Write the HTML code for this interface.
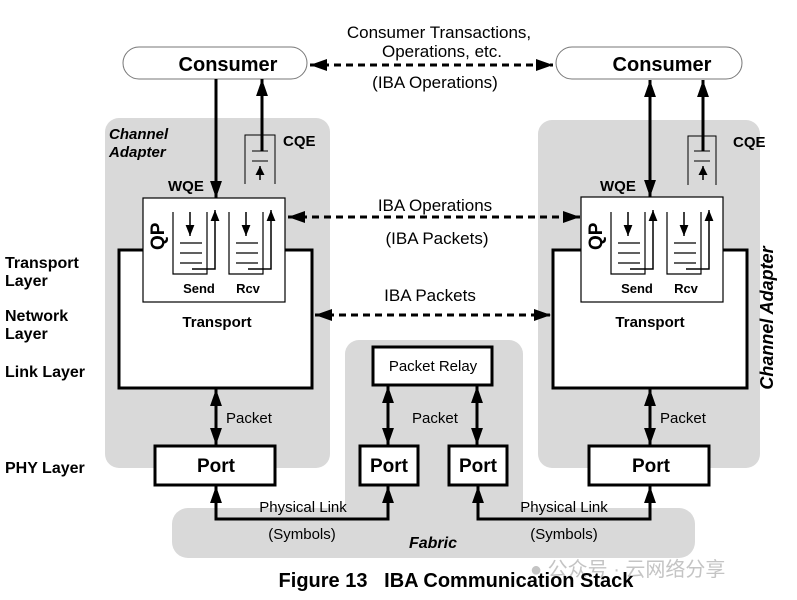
<!DOCTYPE html>
<html><head><meta charset="utf-8"><style>
html,body{margin:0;padding:0;background:#fff}
svg{display:block}
text{font-family:"Liberation Sans",Arial,sans-serif;fill:#000}
.b{font-weight:bold}
</style></head><body>
<svg width="797" height="600" viewBox="0 0 797 600" xmlns="http://www.w3.org/2000/svg">
<defs>
<marker id="ah" viewBox="0 0 10 10" refX="10" refY="5" markerWidth="9" markerHeight="9" markerUnits="userSpaceOnUse" orient="auto-start-reverse"><path d="M0,0L10,5L0,10z"/></marker>
<marker id="AH" viewBox="0 0 10 10" refX="10" refY="5" markerWidth="17" markerHeight="17" orient="auto-start-reverse" markerUnits="userSpaceOnUse"><path d="M0,1.5L10,5L0,8.5z"/></marker>
<marker id="sh" viewBox="0 0 10 10" refX="10" refY="5" markerWidth="11" markerHeight="11" orient="auto-start-reverse" markerUnits="userSpaceOnUse"><path d="M0,1L10,5L0,9z"/></marker>
</defs>
<rect x="105" y="118" width="225" height="350" rx="14" fill="#d9d9d9"/>
<rect x="538" y="120" width="222" height="348" rx="14" fill="#d9d9d9"/>
<rect x="345" y="340" width="178" height="190" rx="14" fill="#d9d9d9"/>
<rect x="172" y="508" width="523" height="50" rx="16" fill="#d9d9d9"/>

<rect x="123" y="47" width="184" height="32" rx="16" fill="#fff" stroke="#777" stroke-width="1"/>
<text x="228" y="71" font-size="20" class="b" text-anchor="middle">Consumer</text>
<rect x="556" y="47" width="186" height="32" rx="16" fill="#fff" stroke="#777" stroke-width="1"/>
<text x="662" y="71" font-size="20" class="b" text-anchor="middle">Consumer</text>
<line x1="310" y1="65" x2="553" y2="65" stroke="#000" stroke-width="3" stroke-dasharray="7,5" marker-start="url(#AH)" marker-end="url(#AH)"/>
<text x="439" y="38" font-size="17" text-anchor="middle">Consumer Transactions,</text>
<text x="442" y="57" font-size="17" text-anchor="middle">Operations, etc.</text>
<text x="435" y="88" font-size="17" text-anchor="middle">(IBA Operations)</text>

<text x="109" y="139" font-size="15" class="b" font-style="italic">Channel</text>
<text x="109" y="157" font-size="15" class="b" font-style="italic">Adapter</text>
<text x="283" y="146" font-size="15" class="b">CQE</text>
<text x="168" y="191" font-size="15" class="b">WQE</text>
<rect x="119" y="250" width="193" height="138" fill="#fff" stroke="#000" stroke-width="3"/>
<rect x="143" y="198" width="142" height="104" fill="#fff" stroke="#000" stroke-width="1.2"/>
<text x="217" y="327" font-size="15" class="b" text-anchor="middle">Transport</text>
<line x1="216" y1="79" x2="216" y2="198" stroke="#000" stroke-width="3" marker-end="url(#AH)"/>
<path d="M245,184V135H275V184" fill="none" stroke="#000" stroke-width="1"/>
<line x1="252" y1="151" x2="268" y2="151" stroke="#000"/><line x1="252" y1="161" x2="268" y2="161" stroke="#000"/>
<line x1="260" y1="180" x2="260" y2="166" stroke="#000" stroke-width="1.5" marker-end="url(#ah)"/>
<line x1="262" y1="151" x2="262" y2="79" stroke="#000" stroke-width="3" marker-end="url(#AH)"/>

<text x="733" y="147" font-size="15" class="b">CQE</text>
<text x="600" y="191" font-size="15" class="b">WQE</text>
<rect x="553" y="250" width="194" height="138" fill="#fff" stroke="#000" stroke-width="3"/>
<rect x="581" y="197" width="142" height="105" fill="#fff" stroke="#000" stroke-width="1.2"/>
<text x="650" y="327" font-size="15" class="b" text-anchor="middle">Transport</text>
<line x1="650" y1="80" x2="650" y2="197" stroke="#000" stroke-width="3" marker-start="url(#AH)" marker-end="url(#AH)"/>
<path d="M688,185V136H716V185" fill="none" stroke="#000" stroke-width="1"/>
<line x1="694" y1="151" x2="710" y2="151" stroke="#000"/><line x1="694" y1="161" x2="710" y2="161" stroke="#000"/>
<line x1="703" y1="180" x2="703" y2="166" stroke="#000" stroke-width="1.5" marker-end="url(#ah)"/>
<line x1="703" y1="151" x2="703" y2="80" stroke="#000" stroke-width="3" marker-end="url(#AH)"/>
<text transform="translate(773,318) rotate(-90)" font-size="18" class="b" font-style="italic" text-anchor="middle">Channel Adapter</text>

<g id="q" stroke="#000" fill="none" stroke-width="1.2">
<path d="M173,212V274H207V212"/>
<line x1="180" y1="243" x2="202" y2="243"/><line x1="180" y1="253" x2="202" y2="253"/><line x1="180" y1="263" x2="202" y2="263"/>
<line x1="190" y1="212" x2="190" y2="236" stroke-width="1.5" marker-end="url(#sh)"/>
<path d="M192,269H215V210" stroke-width="1.5" marker-end="url(#sh)"/>
</g>
<use href="#q" x="56"/>
<use href="#q" x="438"/>
<use href="#q" x="494"/>
<text x="199" y="293" font-size="13" class="b" text-anchor="middle">Send</text>
<text x="248" y="293" font-size="13" class="b" text-anchor="middle">Rcv</text>
<text x="637" y="293" font-size="13" class="b" text-anchor="middle">Send</text>
<text x="686" y="293" font-size="13" class="b" text-anchor="middle">Rcv</text>
<text transform="translate(164,250) rotate(-90)" font-size="19" class="b">QP</text>
<text transform="translate(602,250) rotate(-90)" font-size="19" class="b">QP</text>

<line x1="288" y1="217" x2="580" y2="217" stroke="#000" stroke-width="3" stroke-dasharray="7,5" marker-start="url(#AH)" marker-end="url(#AH)"/>
<text x="435" y="211" font-size="17" text-anchor="middle">IBA Operations</text>
<text x="437" y="244" font-size="17" text-anchor="middle">(IBA Packets)</text>
<line x1="315" y1="315" x2="551" y2="315" stroke="#000" stroke-width="3" stroke-dasharray="7,5" marker-start="url(#AH)" marker-end="url(#AH)"/>
<text x="430" y="301" font-size="17" text-anchor="middle">IBA Packets</text>

<g font-size="16">
<text x="5" y="268" class="b">Transport</text><text x="5" y="286" class="b">Layer</text>
<text x="5" y="321" class="b">Network</text><text x="5" y="339" class="b">Layer</text>
<text x="5" y="377" class="b">Link Layer</text>
<text x="5" y="473" class="b">PHY Layer</text>
</g>

<rect x="373" y="347" width="119" height="38" fill="#fff" stroke="#000" stroke-width="3"/>
<text x="433" y="371" font-size="15" text-anchor="middle">Packet Relay</text>
<rect x="155" y="446" width="120" height="39" fill="#fff" stroke="#000" stroke-width="3"/>
<rect x="360" y="446" width="58" height="39" fill="#fff" stroke="#000" stroke-width="3"/>
<rect x="449" y="446" width="58" height="39" fill="#fff" stroke="#000" stroke-width="3"/>
<rect x="589" y="446" width="120" height="39" fill="#fff" stroke="#000" stroke-width="3"/>
<g font-size="19" text-anchor="middle">
<text x="216" y="472" class="b">Port</text><text x="389" y="472" class="b">Port</text>
<text x="478" y="472" class="b">Port</text><text x="651" y="472" class="b">Port</text>
</g>
<g stroke="#000" stroke-width="3">
<line x1="216" y1="389" x2="216" y2="445" marker-start="url(#AH)" marker-end="url(#AH)"/>
<line x1="650" y1="389" x2="650" y2="445" marker-start="url(#AH)" marker-end="url(#AH)"/>
<line x1="388" y1="386" x2="388" y2="445" marker-start="url(#AH)" marker-end="url(#AH)"/>
<line x1="477" y1="386" x2="477" y2="445" marker-start="url(#AH)" marker-end="url(#AH)"/>
<path d="M216,486V519H388V486" fill="none" marker-start="url(#AH)" marker-end="url(#AH)"/>
<path d="M478,486V519H650V486" fill="none" marker-start="url(#AH)" marker-end="url(#AH)"/>
</g>
<text x="226" y="423" font-size="15">Packet</text>
<text x="412" y="423" font-size="15">Packet</text>
<text x="660" y="423" font-size="15">Packet</text>
<text x="303" y="512" font-size="15" text-anchor="middle">Physical Link</text>
<text x="302" y="539" font-size="15" text-anchor="middle">(Symbols)</text>
<text x="564" y="512" font-size="15" text-anchor="middle">Physical Link</text>
<text x="564" y="539" font-size="15" text-anchor="middle">(Symbols)</text>
<text x="433" y="548" font-size="16" class="b" font-style="italic" text-anchor="middle">Fabric</text>
<text x="530" y="576" font-size="20" style="fill:#c4c4c4;font-family:'Liberation Sans','Noto Sans CJK SC',sans-serif">● 公众号 · 云网络分享</text>
<text x="456" y="587" font-size="20" class="b" text-anchor="middle" xml:space="preserve">Figure 13   IBA Communication Stack</text>
</svg>
</body></html>
